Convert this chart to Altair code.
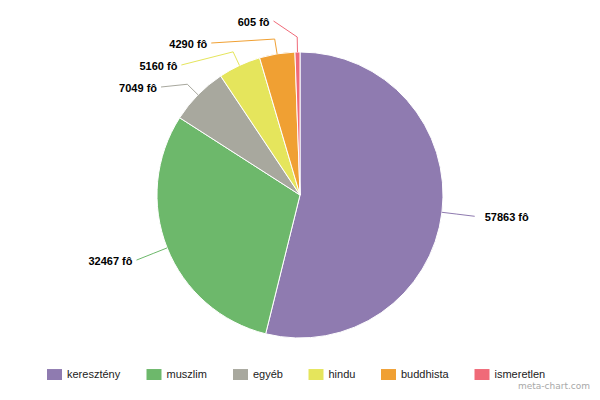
import math
import pandas as pd
import altair as alt

# ---- data ----
categories = ["keresztény", "muszlim", "egyéb", "hindu", "buddhista", "ismeretlen"]
values = [57863, 32467, 7049, 5160, 4290, 605]
colors = ["#8F7BB0", "#6DB86B", "#A8A89E", "#E5E55C", "#F0A033", "#F06A78"]
unit = "fô"
watermark = ["meta-chart.com"]

# ---- layout parameters ----
W, H = 584, 384
X_DOM = [-292, 292]
Y_DOM = [-187, 197]
R = 143
R_BEND = 158
R_LABEL = 176
MIN_GAP = 22
TOP = -174

total = sum(values)
mids = []
cum = 0
for v in values:
    a0 = cum / total * 2 * math.pi
    cum += v
    a1 = cum / total * 2 * math.pi
    mids.append((a0 + a1) / 2)

# label placement (pushed apart vertically per side)
label_y = {}
for side in ("right", "left"):
    idx = [i for i, m in enumerate(mids) if (m < math.pi) == (side == "right")]
    idx.sort(key=lambda i: -R_LABEL * math.cos(mids[i]))
    prev = TOP - MIN_GAP
    for i in idx:
        y = max(-R_LABEL * math.cos(mids[i]), prev + MIN_GAP)
        label_y[i] = y
        prev = y

pie_rows, label_rows, line_rows = [], [], []
for i, (c, v, m) in enumerate(zip(categories, values, mids)):
    pie_rows.append({"category": c, "value": v, "idx": i})
    side = "right" if m < math.pi else "left"
    sgn = 1 if side == "right" else -1
    ly = label_y[i]
    lx = sgn * math.sqrt(max(R_LABEL ** 2 - ly ** 2, 0))
    gap = 10 if side == "right" else 4
    label_rows.append({"category": c, "side": side, "px": lx + sgn * gap,
                       "py": ly, "text": f"{v} {unit}"})
    pts = [(R * math.sin(m), -R * math.cos(m)),
           (R_BEND * math.sin(m), -R_BEND * math.cos(m)),
           (lx, ly)]
    for k, (px, py) in enumerate(pts):
        line_rows.append({"category": c, "k": k, "px": px, "py": py})

pie_df = pd.DataFrame(pie_rows)
label_df = pd.DataFrame(label_rows)
line_df = pd.DataFrame(line_rows)
wm_df = pd.DataFrame({"t": watermark})

xs = alt.X("px:Q", scale=alt.Scale(domain=X_DOM, nice=False, zero=False), axis=None)
ys = alt.Y("py:Q", scale=alt.Scale(domain=Y_DOM, reverse=True, nice=False, zero=False), axis=None)
cscale = alt.Scale(domain=categories, range=colors)

legend = alt.Legend(
    title=None, orient="none", legendX=39, legendY=359, direction="horizontal",
    symbolType="M-1,-0.73H1V0.73H-1Z", symbolSize=225, symbolStrokeWidth=0,
    labelFont="Liberation Sans", labelFontSize=11, labelColor="#222222",
    labelOffset=5, columnPadding=25.5, padding=0,
)

arc = alt.Chart(pie_df).mark_arc(outerRadius=R, stroke="white", strokeWidth=1).encode(
    theta=alt.Theta("value:Q", stack=True),
    order=alt.Order("idx:Q"),
    color=alt.Color("category:N", scale=cscale, legend=legend),
    x=alt.value(292),
    y=alt.value(187),
)

lines = alt.Chart(line_df).mark_line(strokeWidth=1).encode(
    x=xs, y=ys,
    color=alt.Color("category:N", scale=cscale, legend=None),
    detail="category:N",
    order="k:Q",
)

text_style = dict(font="Liberation Sans", fontSize=11, fontWeight="bold",
                  color="#000000", baseline="middle", dy=2)
text_left = alt.Chart(label_df).transform_filter(alt.datum.side == "left").mark_text(
    align="right", **text_style).encode(x=xs, y=ys, text="text:N")
text_right = alt.Chart(label_df).transform_filter(alt.datum.side == "right").mark_text(
    align="left", **text_style).encode(x=xs, y=ys, text="text:N")

wm = alt.Chart(wm_df).mark_text(
    align="right", baseline="alphabetic", font="DejaVu Sans", fontSize=9,
    color="#A8A8A8").encode(x=alt.value(582), y=alt.value(381), text="t:N")

chart = alt.layer(arc, lines, text_left, text_right, wm).properties(
    width=W, height=H, padding=0, autosize="none"
).configure_view(stroke=None)

chart.save("out.html", embed_options={"renderer": "svg", "actions": False})
